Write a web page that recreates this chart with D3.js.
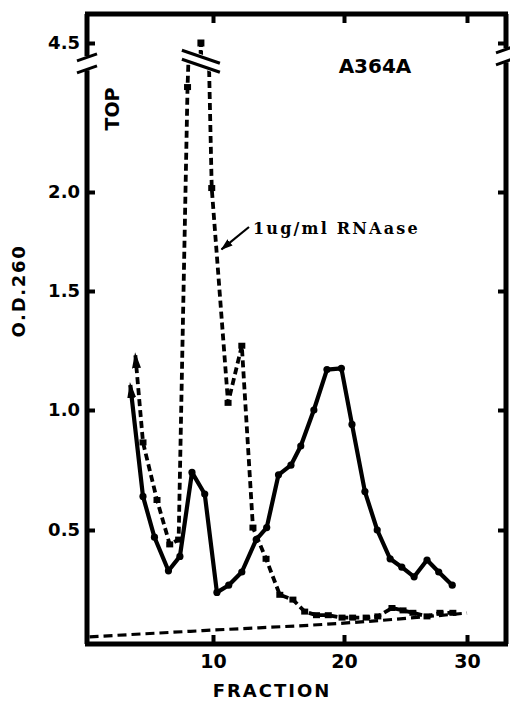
<!DOCTYPE html>
<html lang="en">
<meta charset="utf-8">
<style>
body { margin: 0; background: #fff; }
svg text { font-family: "DejaVu Sans", sans-serif; font-weight: bold; fill: #000; }
svg text.serif { font-family: "DejaVu Serif", serif; }
.frame, .brk { fill: none; stroke: #000; stroke-linecap: butt; }
.tick line { stroke: #000; stroke-width: 4px; }
.domain { display: none; }
</style>
<body>
<script src="https://cdn.jsdelivr.net/npm/d3@7"></script>
<script>
"use strict";

// control gradient: solid line, round dots (first point = arrow tip)
const ctrlFraction = [3.5, 4.5, 5.4, 6.5, 7.4, 8.35, 9.35, 10.3, 11.2, 12.2, 13.3, 14.1, 15.0, 15.95, 16.7,
                      17.7, 18.7, 19.8, 20.65, 21.7, 22.7, 23.75, 24.7, 25.7, 26.75, 27.7, 28.8];
const ctrlOD = [1.105, 0.64, 0.47, 0.33, 0.39, 0.74, 0.65, 0.24, 0.27, 0.325, 0.46, 0.51, 0.73, 0.77, 0.85,
                1.0, 1.17, 1.175, 0.94, 0.66, 0.50, 0.38, 0.345, 0.305, 0.375, 0.325, 0.27];

// 1ug/ml RNAase: dashed line, square dots (first point = arrow tip)
const rnaseFraction = [3.9, 4.5, 5.6, 6.6, 7.3, 8.0, 9.05, 9.9, 11.15, 12.2, 13.05, 14.05, 15.1, 16.1, 17.0,
                       17.9, 18.8, 19.85, 20.7, 21.8, 22.75, 23.9, 24.8, 25.6, 26.75, 27.8, 28.85];
const rnaseOD = [1.23, 0.865, 0.625, 0.44, 0.46, 2.53, 4.5, 2.02, 1.03, 1.27, 0.51, 0.38, 0.23, 0.21, 0.16,
                 0.145, 0.145, 0.135, 0.135, 0.135, 0.14, 0.175, 0.165, 0.155, 0.14, 0.155, 0.155];

// gradient background (long dashes along the bottom)
const baseFraction = [0.3, 10, 20, 30];
const baseOD = [0.055, 0.083, 0.112, 0.154];

const xTicks = [10, 20, 30];
const yTicksLow = [0.5, 1.0, 1.5, 2.0];
const yTicksHigh = [4.5];
const BREAK_OD = 2.66;   // where the axis is broken

const W = 510, H = 701;
const pLeft = 87, pRight = 506, pTop = 14, pBottom = 644;

// hand drawn axis, so the tick spacing is not quite even
const x = d3.scaleLinear().domain([0.1, 10, 20, 30, 33.2]).range([pLeft, 213, 344, 467, pRight]);
const yLo = d3.scaleLinear().domain([0, 0.5, 1.0, 1.5, 2.0, 5.0]).range([650, 530, 410, 291, 192, -402]);
const yHi = d3.scaleLinear().domain([2.0, 4.5]).range([43 + 2.5 * 198, 43]);

const svg = d3.select("body").append("svg")
    .attr("width", W)
    .attr("height", H);

const defs = svg.append("defs");

defs.append("marker")
    .attr("id", "head")
    .attr("markerUnits", "userSpaceOnUse")
    .attr("viewBox", "0 0 16 9")
    .attr("markerWidth", 16).attr("markerHeight", 9)
    .attr("refX", 13).attr("refY", 4.5)
    .attr("orient", "auto-start-reverse")
  .append("path")
    .attr("d", "M0,0L16,4.5L0,9z")
    .attr("fill", "#000");

defs.append("marker")
    .attr("id", "smallhead")
    .attr("markerUnits", "userSpaceOnUse")
    .attr("viewBox", "0 0 12 8")
    .attr("markerWidth", 12).attr("markerHeight", 8)
    .attr("refX", 11).attr("refY", 4)
    .attr("orient", "auto")
  .append("path")
    .attr("d", "M0,0L12,4L0,8z")
    .attr("fill", "#000");

// break line through the RNAase peak
const bx = x(9.05), by = yLo(BREAK_OD), slope = 0.34;
const slashY = (px, off) => by + off + slope * (px - bx);

defs.append("clipPath").attr("id", "clipLo")
  .append("polygon")
    .attr("points", [[pLeft, pBottom], [pLeft, slashY(pLeft, 7)], [pRight, slashY(pRight, 7)], [pRight, pBottom]].join(" "));

defs.append("clipPath").attr("id", "clipHi")
  .append("polygon")
    .attr("points", [[bx - 30, pTop], [bx + 30, pTop], [bx + 30, slashY(bx + 30, -7)], [bx - 30, slashY(bx - 30, -7)]].join(" "));

// frame with broken side axes
const brkL = yLo(BREAK_OD) + 2, brkR = yLo(BREAK_OD) - 6;
svg.append("path")
    .attr("class", "frame")
    .attr("stroke-width", 5)
    .attr("d", `M${pLeft - 2},${pTop}H${pRight + 2}M${pLeft - 2},${pBottom}H${pRight + 2}` +
               `M${pLeft},${pTop}V${brkL - 7}M${pLeft},${brkL + 7}V${pBottom}` +
               `M${pRight},${pTop}V${brkR - 7}M${pRight},${brkR + 7}V${pBottom}`);

function axisBreak(cx, cy) {
  [-6, 6].forEach(off => {
    svg.append("line").attr("class", "brk")
        .attr("stroke-width", 3)
        .attr("x1", cx - 10).attr("y1", cy + off + 3.5)
        .attr("x2", cx + 10).attr("y2", cy + off - 3.5);
  });
}
axisBreak(pLeft, brkL);
axisBreak(pRight, brkR);

// axes, ticks pointing inward
const gx = svg.append("g")
    .attr("transform", `translate(0,${pBottom})`)
    .call(d3.axisBottom(x).tickValues(xTicks).tickSize(-9).tickPadding(11).tickFormat(d3.format("d")));
gx.selectAll("text").attr("font-size", 19).attr("font-family", "DejaVu Sans").attr("font-weight", "bold");

svg.append("g")
    .attr("transform", `translate(0,${pTop})`)
    .call(d3.axisTop(x).tickValues(xTicks).tickSize(-9).tickFormat(""));

const gyLo = svg.append("g")
    .attr("transform", `translate(${pLeft},0)`)
    .call(d3.axisLeft(yLo).tickValues(yTicksLow).tickSize(-8).tickPadding(7).tickFormat(d3.format(".1f")));
const gyHi = svg.append("g")
    .attr("transform", `translate(${pLeft},0)`)
    .call(d3.axisLeft(yHi).tickValues(yTicksHigh).tickSize(-8).tickPadding(7).tickFormat(d3.format(".1f")));
[gyLo, gyHi].forEach(g => g.selectAll("text")
    .attr("font-size", 18).attr("font-family", "DejaVu Sans").attr("font-weight", "bold"));

svg.append("g")
    .attr("transform", `translate(${pRight},0)`)
    .call(d3.axisRight(yLo).tickValues(yTicksLow).tickSize(-8).tickFormat(""));
svg.append("g")
    .attr("transform", `translate(${pRight},0)`)
    .call(d3.axisRight(yHi).tickValues(yTicksHigh).tickSize(-8).tickFormat(""));

// data
const ctrl = d3.zip(ctrlFraction, ctrlOD);
const rnase = d3.zip(rnaseFraction, rnaseOD);
const base = d3.zip(baseFraction, baseOD);

const lineLo = d3.line().x(d => x(d[0])).y(d => yLo(d[1]));
const lineHi = d3.line().x(d => x(d[0])).y(d => yHi(d[1]));
const baseLine = d3.line().x(d => x(d[0])).y(d => yLo(d[1])).curve(d3.curveMonotoneX);

const lo = svg.append("g").attr("clip-path", "url(#clipLo)");
const hi = svg.append("g").attr("clip-path", "url(#clipHi)");

lo.append("path")
    .datum(base)
    .attr("d", baseLine)
    .attr("fill", "none").attr("stroke", "#000")
    .attr("stroke-width", 3.2).attr("stroke-dasharray", "9,5");

lo.append("path")
    .datum(rnase)
    .attr("d", lineLo)
    .attr("fill", "none").attr("stroke", "#000")
    .attr("stroke-width", 3.8).attr("stroke-dasharray", "7,4")
    .attr("marker-start", "url(#head)");

hi.append("path")
    .datum(rnase)
    .attr("d", lineHi)
    .attr("fill", "none").attr("stroke", "#000")
    .attr("stroke-width", 3.8).attr("stroke-dasharray", "7,4");

lo.append("path")
    .datum(ctrl)
    .attr("d", lineLo)
    .attr("fill", "none").attr("stroke", "#000")
    .attr("stroke-width", 4.2).attr("stroke-linejoin", "round")
    .attr("marker-start", "url(#head)");

lo.selectAll("circle")
    .data(ctrl.slice(1))
  .join("circle")
    .attr("cx", d => x(d[0]))
    .attr("cy", d => yLo(d[1]))
    .attr("r", 3.6)
    .attr("fill", "#000");

lo.selectAll("rect.lo")
    .data(rnase.slice(1).filter(d => d[1] < BREAK_OD))
  .join("rect")
    .attr("class", "lo")
    .attr("x", d => x(d[0]) - 3.5)
    .attr("y", d => yLo(d[1]) - 3)
    .attr("width", 7).attr("height", 6)
    .attr("fill", "#000");

hi.selectAll("rect")
    .data(rnase.filter(d => d[1] > BREAK_OD))
  .join("rect")
    .attr("x", d => x(d[0]) - 3.5)
    .attr("y", d => yHi(d[1]) - 3.5)
    .attr("width", 7).attr("height", 7)
    .attr("fill", "#000");

// break marks on the peak
[-4.5, 4.5].forEach(off => {
  svg.append("line").attr("class", "brk")
      .attr("stroke-width", 3.2)
      .attr("x1", bx - 19).attr("y1", slashY(bx - 19, off))
      .attr("x2", bx + 19).attr("y2", slashY(bx + 19, off));
});

// labels
svg.append("text")
    .attr("x", 375).attr("y", 73)
    .attr("text-anchor", "middle")
    .attr("font-size", 20)
    .text("A364A");

svg.append("text")
    .attr("transform", "translate(119,109) rotate(-90)")
    .attr("text-anchor", "middle")
    .attr("font-size", 19)
    .text("TOP");

svg.append("text")
    .attr("transform", "translate(25,291) rotate(-90)")
    .attr("text-anchor", "middle")
    .attr("font-size", 18)
    .attr("letter-spacing", 1.7)
    .text("O.D.260");

svg.append("text")
    .attr("x", 272).attr("y", 697)
    .attr("text-anchor", "middle")
    .attr("font-size", 18)
    .attr("letter-spacing", 2)
    .text("FRACTION");

svg.append("text")
    .attr("class", "serif")
    .attr("x", 253).attr("y", 234)
    .attr("font-size", 16)
    .attr("letter-spacing", 2.2)
    .text("1ug/ml RNAase");

svg.append("line")
    .attr("x1", 249).attr("y1", 227)
    .attr("x2", x(10.65)).attr("y2", yLo(1.71))
    .attr("stroke", "#000").attr("stroke-width", 2.2)
    .attr("marker-end", "url(#smallhead)");
</script>
</body>
</html>
